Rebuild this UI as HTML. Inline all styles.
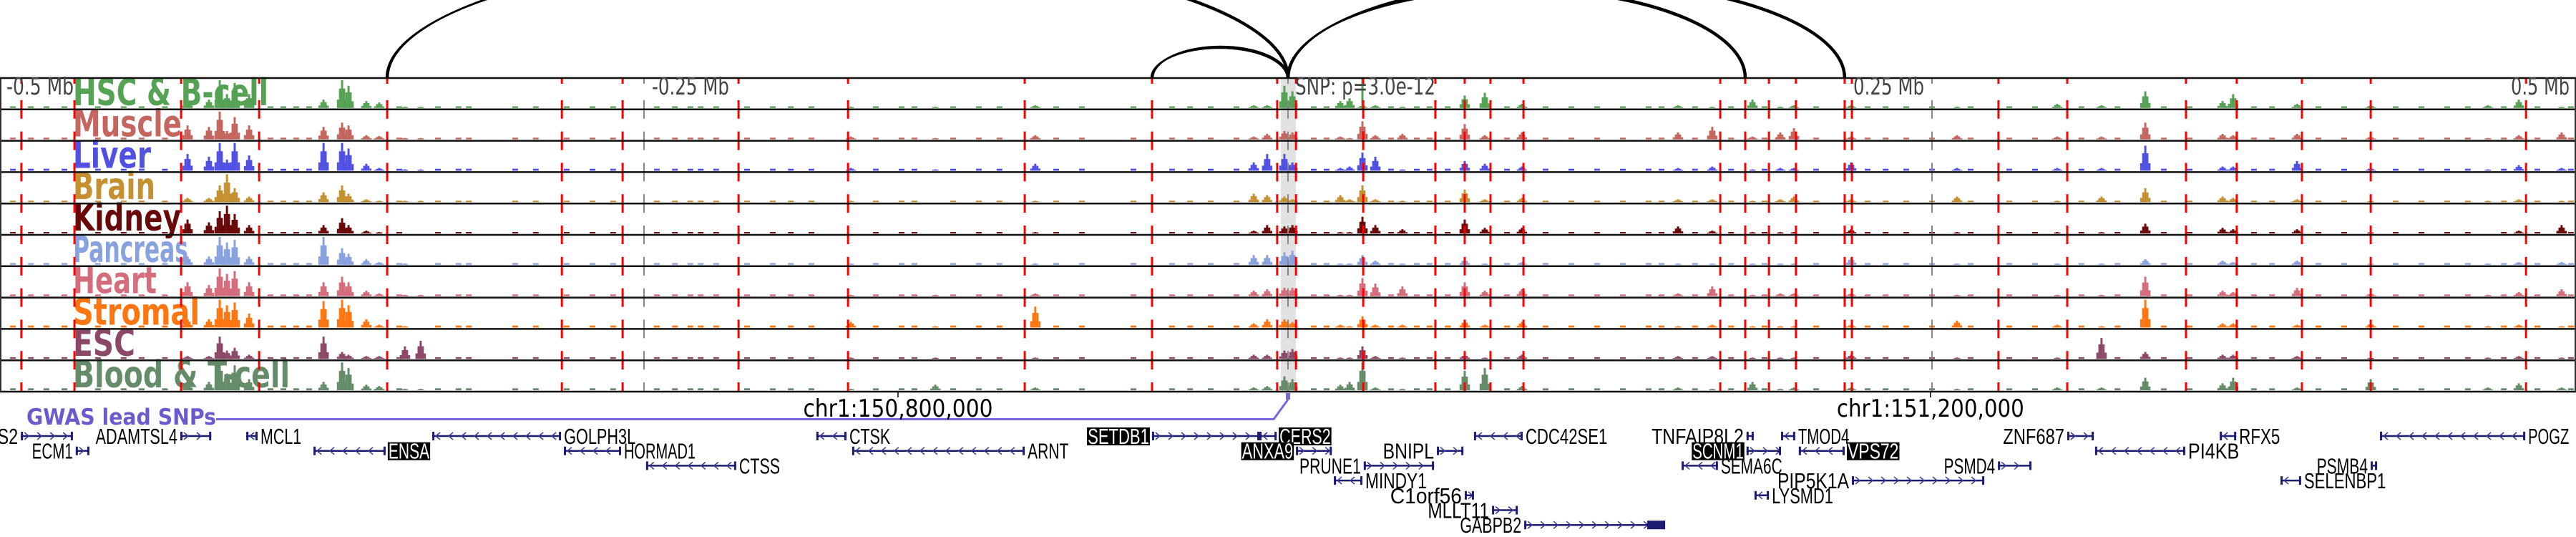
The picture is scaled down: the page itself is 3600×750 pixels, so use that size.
<!DOCTYPE html>
<html><head><meta charset="utf-8"><style>
html,body{margin:0;padding:0;background:#fff;}
svg{display:block;}
</style></head><body>
<svg id="fig" xmlns="http://www.w3.org/2000/svg" width="3600" height="750" viewBox="0 0 3600 750">
<g id="arcs" fill="none" stroke="#000" stroke-width="2.5"></g>
<g id="band"></g>
<g id="signals"></g>
<g id="labels"></g>
<g id="vlines"></g>
<g id="frame"></g>
<g id="axis" font-family="DejaVu Sans, sans-serif" fill="#444" font-size="33"></g>
<g id="gwas"></g>
<g id="genes" font-family="Liberation Sans, sans-serif" font-size="31"></g>
</svg>
<script>
const NS='http://www.w3.org/2000/svg';
// ---- data ----
const trackNames=['HSC & B-cell','Muscle','Liver','Brain','Kidney','Pancreas','Heart','Stromal','ESC','Blood & T-cell'];
const trackColors=['#55a255','#c4665e','#5050e2','#c49030','#680808','#88a2e0','#d46c7c','#ff7510','#8c4868','#648c68'];
const peakPos=[-427.2,-418.9,-414.7,-411.9,-408.9,-403.3,-374.4,-367.2,-364.7,-357.8,-352.8,-342.8,-336.7,-169.7,-136.9,-98.1,-13.3,-8.1,-1.4,1.7,20.3,23.9,28.9,33.9,44.4,68.6,76.4,90.8,151.4,164.7,180.3,191.1,196.4,218.6,259.7,298.6,315.8,332.8,362.8,366.9,391.7,420.3,465.8,477.8,494.4];
const hHSC=[.3,.3,1,.5,.9,.5,.3,1,.8,.25,.2,.05,.05,.05,.05,.1,.1,.1,.8,.6,.25,.35,.1,.1,.05,.45,.55,.15,.1,.05,.3,.05,.1,.1,.05,.15,.1,.6,.25,.5,.15,.1,.1,.3,.05];
const hMus=[.5,.45,1,.3,.8,.5,.45,.6,.5,.15,.12,.05,.05,.1,.05,.15,.1,.2,.3,.25,.1,.05,.65,.15,.2,.55,.15,.25,.25,.45,.1,.25,.4,.1,.15,.1,.1,.6,.2,.15,.2,.1,.05,.15,.25];
const hLiv=[.6,.5,1,.4,1,.55,1,1,.8,.25,.1,.05,.05,.1,.05,.25,.3,.6,.6,.3,.1,.15,.65,.5,.05,.35,.25,.15,.1,.15,.05,.1,.1,.3,.1,.1,.1,.9,.15,.15,.35,.1,.05,.2,.1];
const hBrn=[.15,.15,.6,1,.5,.2,.35,.6,.3,.1,.05,.05,.05,.05,.02,.05,.3,.25,.2,.1,.25,.1,.6,.1,.05,.45,.1,.15,.1,.1,.05,.1,.2,.1,.2,.05,.2,.5,.2,.15,.1,.05,.05,.1,.05];
const hKid=[.5,.4,.8,1,.7,.3,.3,.55,.3,.1,.05,.02,.02,.02,.02,.05,.1,.3,.25,.3,.05,.05,.6,.3,.15,.5,.2,.2,.25,.1,.05,.05,.05,.15,.05,.05,.05,.35,.2,.15,.15,.05,.02,.1,.3];
const hPan=[.3,.3,1,.8,.9,.3,1,.6,.4,.2,.1,.05,.02,.05,.02,.05,.35,.35,.45,.5,.05,.05,.35,.15,.05,.2,.05,.1,.05,.05,.05,.05,.05,.25,.05,.05,.05,.2,.15,.1,.15,.05,.05,.1,.1];
const hHrt=[.5,.4,1,.8,.9,.5,.5,.7,.5,.2,.1,.05,.05,.05,.05,.1,.2,.25,.3,.3,.05,.05,.65,.45,.35,.5,.2,.25,.1,.35,.05,.1,.1,.1,.05,.05,.05,.7,.2,.15,.3,.1,.05,.15,.25];
const hStr=[.3,.3,1,.8,.9,.5,.95,1,.8,.3,.1,.05,.02,.2,.05,.75,.15,.3,.3,.2,.1,.05,.4,.1,.1,.25,.1,.2,.05,.1,.05,.05,.05,.1,.25,.1,.05,1,.15,.15,.1,.15,.05,.1,.05];
const hESC=[.1,.1,.8,.3,.4,.15,.8,.25,.15,.1,.1,.45,.65,.05,.05,.05,.15,.15,.3,.35,.05,.05,.45,.1,.05,.15,.05,.15,.1,.1,.05,.05,.05,.15,.05,.05,.75,.25,.15,.15,.1,.05,.05,.1,.05];
const hBld=[.3,.3,1,.6,.9,.4,.3,1,.8,.2,.15,.05,.05,.05,.2,.1,.1,.15,.5,.4,.2,.3,1,.1,.05,.7,.8,.15,.1,.05,.3,.05,.1,.1,.05,.1,.1,.45,.25,.45,.1,.4,.1,.25,.1];
const bgPos=[-495,-488,-482,-475,-462,-452,-445,-436,-395,-390,-385,-380,-345,-330,-322,-318,-300,-292,-280,-270,-262,-245,-238,-232,-228,-222,-210,-200,-193,-185,-160,-150,-145,-130,-120,-112,-90,-80,-60,-45,-38,-30,-20,10,15,40,50,55,62,85,100,110,120,130,140,145,158,172,185,205,225,232,240,250,265,280,290,308,322,340,350,375,382,400,410,430,440,450,458,472,485,498];
const bgLevel=[.06,.06,.07,.05,.05,.06,.06,.07,.06,.07];
const redLines=[-491.7,-471.1,-429.7,-399.4,-349.7,-281.9,-258.3,-213.3,-170.8,-102.2,-52.8,-4.2,3.1,29.2,57.2,68.6,78.6,91.4,167.8,177.5,186.7,197.2,216.1,218.9,275.8,302.5,348.6,368.3,393.6,420.3,480.6];
const greyLines=[-250,0,250];
const snpPos=0;
const loopEnds=[-349.7,-52.8,177.5,216.1];
const loopHeights=[176,43,124,136];
const geneName=['S2','ADAMTSL4','MCL1','GOLPH3L','ECM1','ENSA','HORMAD1','CTSS','CTSK','ARNT','SETDB1','CERS2','ANXA9','BNIPL','PRUNE1','MINDY1','C1orf56','MLLT11','GABPB2','CDC42SE1','TNFAIP8L2','TMOD4','SCNM1','VPS72','SEMA6C','PIP5K1A','LYSMD1','PSMD4','ZNF687','PI4KB','RFX5','PSMB4','SELENBP1','POGZ'];
const geneStart=[-491.9,-430,-404.4,-332.2,-470.6,-378.3,-281.1,-249.2,-183.1,-169.2,-52.8,-11.1,3.1,57.8,29.4,17.8,68.6,79.2,91.7,72.2,178,191.4,178,198.3,152.8,218.9,181.1,275.6,302.5,313.3,361.7,420.3,385.3,423.9];
const geneEnd=[-471.7,-418,-400,-282.2,-465.3,-350.3,-258.9,-214.2,-171.4,-102.2,-11.1,-4.4,17,68.1,56.7,28.9,72.2,89.2,146.4,91.1,180.8,196.9,191.4,216.1,166.9,270.3,186.7,288.6,312.8,348.3,368.1,422.8,393.3,480.3];
const geneRow=[0,0,0,0,1,1,1,2,0,1,0,0,1,1,2,3,4,5,6,0,0,0,1,1,2,3,4,2,0,1,0,2,3,0];
const geneStrand=[1,1,-1,-1,1,-1,-1,-1,-1,-1,1,-1,1,1,1,-1,1,1,1,-1,1,-1,1,-1,-1,1,-1,1,1,-1,-1,1,-1,-1];
const geneLabelLeft=[1,1,0,0,1,0,0,0,0,0,1,0,1,1,1,0,1,1,1,0,1,0,1,0,0,1,0,1,1,0,0,1,0,0];
const geneHighlight=['ENSA','SETDB1','CERS2','ANXA9','SCNM1','VPS72'];
const axisText=['-0.5 Mb','-0.25 Mb','SNP: p=3.0e-12','0.25 Mb','0.5 Mb'];
const chrText=['chr1:150,800,000','chr1:151,200,000'];
const chrTick=[-151.4,249.4];
// ---- scales ----
const X=kb=>1800+kb*3.6;
const T0=109,TH=43.8,NT=10;
const trackTop=i=>T0+i*TH;
const heights=[hHSC,hMus,hLiv,hBrn,hKid,hPan,hHrt,hStr,hESC,hBld];
const Y=(i,v)=>trackTop(i)+TH-2-v*(TH-5);
function mk(tag,attrs,parent){const e=document.createElementNS(NS,tag);for(const k in attrs)e.setAttribute(k,attrs[k]);parent.appendChild(e);return e;}
// arcs
const arcs=document.getElementById('arcs');
loopEnds.forEach((e,i)=>{
  const x1=Math.min(X(e),X(snpPos)),x2=Math.max(X(e),X(snpPos));
  const a=(x2-x1)/2;
  for(let k=-1;k<=1;k++){
    const p=mk('path',{d:`M${x1+k},${T0} A${a},${loopHeights[i]+k} 0 0 1 ${x2+k},${T0}`},arcs);
    
    
  }
});
// band
const band=document.getElementById('band');
const br=mk('rect',{x:X(snpPos)-10,y:T0,width:21,height:TH*NT,fill:'#e2e2e2'},band);


// signals
const sig=document.getElementById('signals');
const prof=[.3,.7,1,.7,.3];
for(let t=0;t<NT;t++){
  const g=mk('g',{fill:trackColors[t]},sig);
  
  
  const base=trackTop(t)+TH-2;
  bgPos.forEach(p=>{
    const r=mk('rect',{x:X(p)-4,y:Y(t,bgLevel[t]),width:8,height:base-Y(t,bgLevel[t])},g);
    
    
  });
  peakPos.forEach((p,j)=>{
    const h=heights[t][j];
    prof.forEach((f,k)=>{
      const v=h*f; if(v<0.03)return;
      const y=Y(t,v);
      const r=mk('rect',{x:X(p+(k-2)*0.8)-1.5,y:y,width:3,height:base-y},g);
      
      
    });
  });
}
const gl=mk('line',{x1:1904,x2:1904,y1:T0,y2:T0+TH,stroke:trackColors[0],'stroke-width':3},sig);


// labels
const labW=[273,152,109,115,151,161,117,177,87,303];
const lab=document.getElementById('labels');
trackNames.forEach((n,i)=>{
  const t=mk('text',{x:102,y:trackTop(i)+TH-6,fill:trackColors[i],'font-family':'DejaVu Sans, sans-serif','font-weight':'bold','font-size':52,textLength:labW[i],lengthAdjust:'spacingAndGlyphs'},lab);
  t.textContent=n;
  
  
});
// vertical dashed lines
const vl=document.getElementById('vlines');
function dashed(x,color,w){
  for(let b=0;b<=NT;b++){
    const y=trackTop(b);
    const y1=b===0?T0:y-13, y2=b===NT?y:(b===0?T0+8:y+13);
    const l=mk('line',{x1:x,x2:x,y1:y1,y2:y2,stroke:color,'stroke-width':w},vl);
    
    
  }
}
greyLines.forEach(p=>dashed(X(p),'#888',2));
redLines.forEach(p=>dashed(X(p),'#f00',3));
// frame
const fr=document.getElementById('frame');
for(let b=0;b<=NT;b++){
  const l=mk('line',{x1:0,x2:3600,y1:trackTop(b),y2:trackTop(b),stroke:'#111','stroke-width':2.5},fr);
  
  
}
[1,3599].forEach(x=>{const l=mk('line',{x1:x,x2:x,y1:T0,y2:T0+TH*NT,stroke:'#333','stroke-width':2},fr);
  
  });
// axis text
const ax=document.getElementById('axis');
const axX=[9,911,1810,2590,3509],axW=[94,108,196,99,82];
axisText.forEach((s,i)=>{
  const t=mk('text',{x:axX[i],y:132,textLength:axW[i],lengthAdjust:'spacingAndGlyphs'},ax);
  t.textContent=s;
  
  
});
// gwas & chr labels
const gw=document.getElementById('gwas');
const gt=mk('text',{x:37,y:593,fill:'#6a5acd','font-family':'DejaVu Sans, sans-serif','font-weight':'bold','font-size':31,textLength:265,lengthAdjust:'spacingAndGlyphs'},gw);
gt.textContent='GWAS lead SNPs';


const gp=mk('path',{d:`M302,585.5 L${X(snpPos)-20},585.5 L${X(snpPos)},558`,fill:'none',stroke:'#7b68d8','stroke-width':3},gw);


const gs=mk('rect',{x:X(snpPos)-3,y:549,width:6,height:9,fill:'#7b68d8'},gw);


const chrW=[265,262];
chrText.forEach((s,i)=>{
  const cx=X(chrTick[i]);
  const tk=mk('line',{x1:cx,x2:cx,y1:548,y2:555,stroke:'#000','stroke-width':1.5},gw);
  
  
  const t=mk('text',{x:cx-chrW[i]/2,y:582,'font-family':'DejaVu Sans, sans-serif','font-size':34,textLength:chrW[i],lengthAdjust:'spacingAndGlyphs'},gw);
  t.textContent=s;
  
  
});
// genes
const gn=document.getElementById('genes');
const rowY=r=>609+r*20.7;
geneName.forEach((n,i)=>{
  const g=mk('g',{},gn);
  
  
  const x1=X(geneStart[i]),x2=X(geneEnd[i]),y=rowY(geneRow[i]);
  mk('line',{x1:x1,x2:x2,y1:y,y2:y,stroke:'#1c1c70','stroke-width':2.5},g);
  for(let x=x1+8;x<x2-4;x+=18){
    const d=geneStrand[i]>0?`M${x-3},${y-5} L${x+3},${y} L${x-3},${y+5}`:`M${x+3},${y-5} L${x-3},${y} L${x+3},${y+5}`;
    mk('path',{d:d,fill:'none',stroke:'#3a3a90','stroke-width':1.5},g);
  }
  mk('rect',{x:x1,y:y-6,width:3,height:12,fill:'#1c1c70'},g);
  mk('rect',{x:x2-3,y:y-6,width:3,height:12,fill:'#1c1c70'},g);
  if(n==='GABPB2')mk('rect',{x:x2-25,y:y-6,width:25,height:12,fill:'#1c1c70'},g);
  const w=n.length*14.3;
  const tx=geneLabelLeft[i]?x1-4-w:x2+4;
  const hl=geneHighlight.indexOf(n)>=0;
  if(hl)mk('rect',{x:tx-1,y:y-12,width:w+2,height:25,fill:'#000'},g);
  const t=mk('text',{x:tx,y:y+11,fill:hl?'#fff':'#000',textLength:w,lengthAdjust:'spacingAndGlyphs'},g);
  t.textContent=n;
});
</script>
</body></html>
